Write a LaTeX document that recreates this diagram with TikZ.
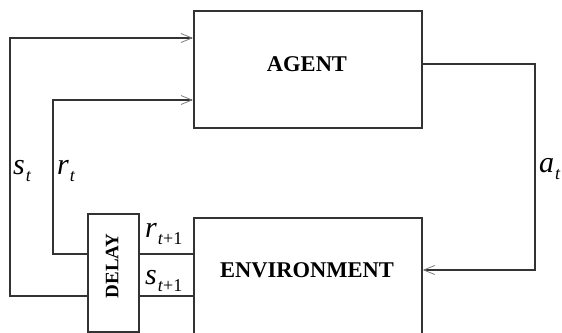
\documentclass[tikz,border=0pt]{standalone}
\usepackage{fontspec}
\setmainfont{Liberation Serif}
\usetikzlibrary{arrows.meta}
\newcommand\sublab[2]{#1\kern1pt\raisebox{-7pt}{\fontsize{18}{18}\selectfont #2}}
\begin{document}
\begin{tikzpicture}[x=1pt,y=-1pt,
  box/.style={draw=black!80,line width=1.7pt,inner sep=0pt},
  wire/.style={draw=black!80,line width=1.4pt},
  arr/.style={wire,-{Straight Barb[length=11pt,width=9pt,line width=0.8pt,color=black!50]}},
  lab/.style={inner sep=0pt,anchor=base west,font=\fontsize{30}{30}\selectfont\itshape},
  title/.style={inner sep=0pt,font=\fontsize{22.5}{24}\selectfont\bfseries},
]
\useasboundingbox (0,0) rectangle (562,332);
\clip (0,0) rectangle (562,332);
\fill[white] (0,0) rectangle (562,332);
% boxes
\node[box,minimum width=228pt,minimum height=117pt,anchor=north west] (agent) at (193,10) {};
\node[box,minimum width=228pt,minimum height=140pt,anchor=north west] (env) at (193,217) {};
\node[box,minimum width=51pt,minimum height=118pt,anchor=north west] (delay) at (87,213) {};
\node[title] (agenttxt) at (307,64) {AGENT};
\node[title] (envtxt) at (307,270) {ENVIRONMENT};
\node[title,rotate=90,font=\fontsize{19}{20}\selectfont\bfseries] (delaytxt) at (112,266) {DELAY};
% corner coordinates
\coordinate (c1) at (10,296);
\coordinate (c2) at (10,38);
\coordinate (c3) at (53,254);
\coordinate (c4) at (53,100);
\coordinate (c5) at (535,64);
\coordinate (c6) at (535,270);
% connectors
\draw[arr] (delay.west |- c1) -- (c1) -- (c2) -- (agent.west |- c2);
\draw[arr] (delay.west |- c3) -- (c3) -- (c4) -- (agent.west |- c4);
\draw[wire] (env.west |- c3) -- (delay.east |- c3);
\draw[wire] (env.west |- c1) -- (delay.east |- c1);
\draw[arr] (agent.east |- c5) -- (c5) -- (c6) -- (env.east |- c6);
% labels
\node[lab] (st) at (13,174) {\sublab{s}{t}};
\node[lab] (rt) at (57,174) {\sublab{r}{t}};
\node[lab] (rt1) at (145,237) {\sublab{r}{t\textup{+1}}};
\node[lab] (st1) at (145,284) {\sublab{s}{t\textup{+1}}};
\node[lab] (at) at (539,172) {\sublab{a}{t}};
\end{tikzpicture}
\end{document}
